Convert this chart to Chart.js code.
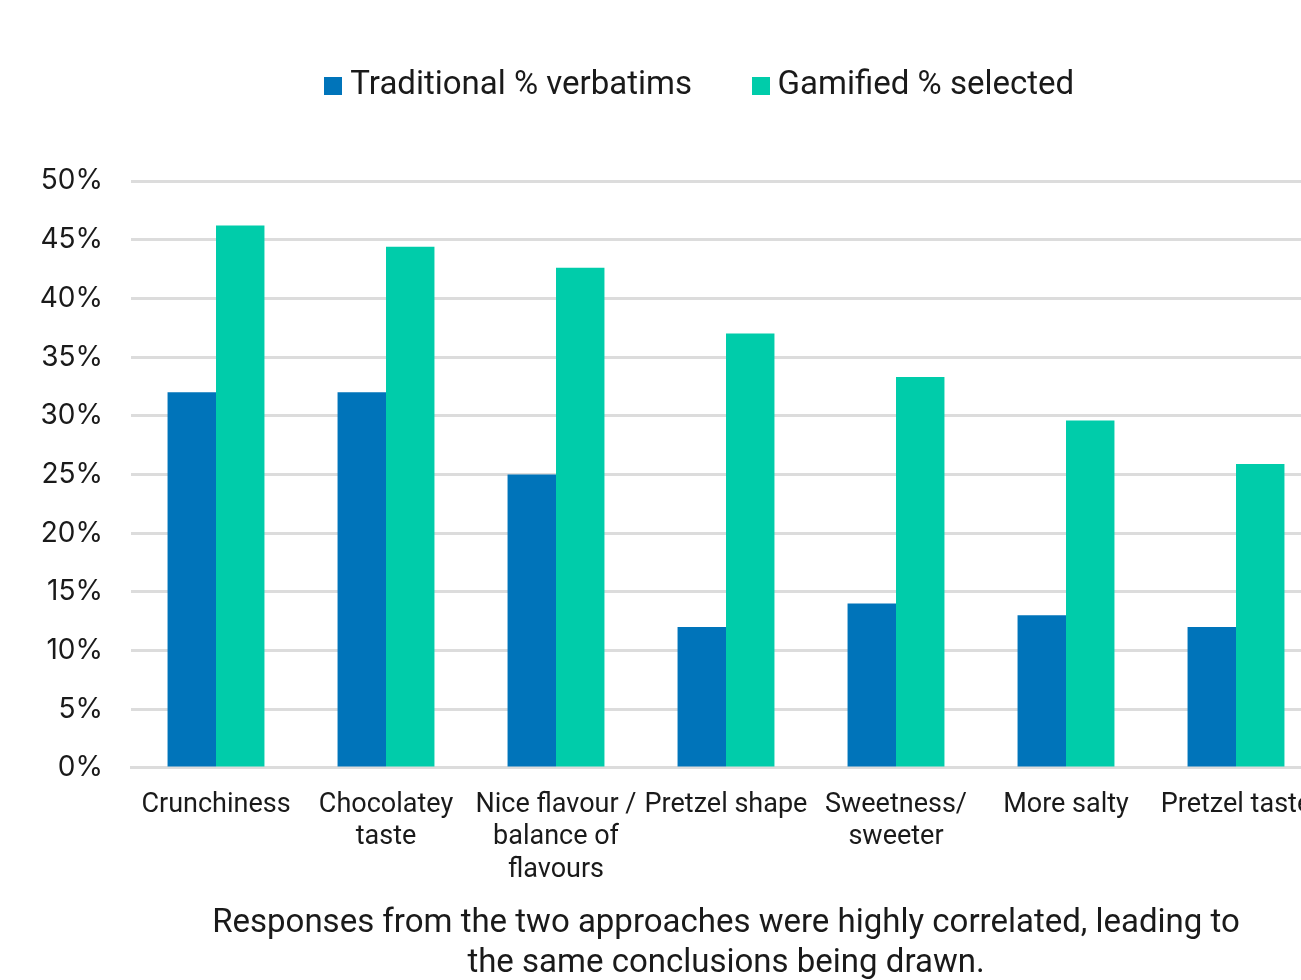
<!DOCTYPE html>
<html>
<head>
<meta charset="utf-8">
<script src="https://cdn.jsdelivr.net/npm/chart.js@4/dist/chart.umd.min.js"></script>
<style>
  html, body { margin: 0; padding: 0; overflow: hidden; background: #ffffff; }
  #wrap { position: relative; width: 1398px; height: 980px; }
</style>
</head>
<body>
<div id="wrap"><canvas id="chart" width="1398" height="980"></canvas></div>
<script>
// Attributes mentioned by respondents
const categories = [
  'Crunchiness',
  ['Chocolatey', 'taste'],
  ['Nice flavour /', 'balance of', 'flavours'],
  'Pretzel shape',
  ['Sweetness/', 'sweeter'],
  'More salty',
  'Pretzel taste'
];
const seriesNames = ['Traditional % verbatims', 'Gamified % selected'];
const traditional = [32, 32, 25, 12, 14, 13, 12];
const gamified = [46.2, 44.4, 42.6, 37.0, 33.3, 29.6, 25.9];
const yTicks = [0, 5, 10, 15, 20, 25, 30, 35, 40, 45, 50];
const caption = [
  'Responses from the two approaches were highly correlated, leading to',
  'the same conclusions being drawn.'
];

const BLUE = '#0074BA';
const GREEN = '#00CCAA';
const GRID = '#dcdcdc';
const TEXT = '#1a1a1a';

// Square legend marker drawn as a small canvas so it sits close to its text
function legendSquare(color) {
  const c = document.createElement('canvas');
  c.width = 18;
  c.height = 18;
  const g = c.getContext('2d');
  g.fillStyle = color;
  g.fillRect(0, 0, 18, 18);
  return c;
}

// Extra room under the legend, and the legend centred on the left part of the canvas
const legendLayout = {
  id: 'legendLayout',
  beforeInit(chart) {
    const fit = chart.legend.fit;
    chart.legend.fit = function () {
      fit.call(this);
      this.height += 69;
    };
  },
  afterLayout(chart) {
    chart.legend.left += 43;
    chart.legend.right += 43;
  }
};

new Chart(document.getElementById('chart'), {
  type: 'bar',
  data: {
    labels: categories,
    datasets: [
      { label: seriesNames[0], data: traditional, backgroundColor: BLUE, borderWidth: 0, pointStyle: legendSquare(BLUE) },
      { label: seriesNames[1], data: gamified, backgroundColor: GREEN, borderWidth: 0, pointStyle: legendSquare(GREEN) }
    ]
  },
  options: {
    responsive: false,
    animation: false,
    devicePixelRatio: 1,
    layout: { padding: { top: 1, left: 0, right: 77, bottom: 0 } },
    datasets: { bar: { categoryPercentage: 0.57, barPercentage: 1.0 } },
    plugins: {
      legend: {
        position: 'top',
        align: 'center',
        labels: {
          usePointStyle: true,
          pointStyleWidth: 1,
          boxHeight: 18,
          padding: 68,
          color: TEXT,
          font: { family: 'Roboto', size: 33 }
        }
      },
      tooltip: { enabled: false }
    },
    scales: {
      x: {
        grid: { display: false, drawTicks: false },
        border: { display: true, color: GRID, width: 3 },
        ticks: {
          color: TEXT,
          padding: 21,
          autoSkip: false,
          maxRotation: 0,
          minRotation: 0,
          font: { family: 'Roboto', size: 27, lineHeight: 1.2 }
        },
        title: {
          display: true,
          text: caption,
          color: TEXT,
          padding: { top: -3, bottom: -4 },
          font: { family: 'Roboto', size: 33, lineHeight: 1.21 }
        }
      },
      y: {
        min: 0,
        max: 50,
        afterFit(scale) { scale.width = 131; },
        afterBuildTicks(scale) { scale.ticks = yTicks.map(v => ({ value: v })); },
        grid: { color: GRID, lineWidth: 3, drawTicks: false },
        border: { display: false },
        ticks: {
          color: TEXT,
          padding: 28,
          font: { family: 'Inter', size: 28 },
          callback: v => v + '%'
        }
      }
    }
  },
  plugins: [legendLayout]
});
</script>
</body>
</html>
